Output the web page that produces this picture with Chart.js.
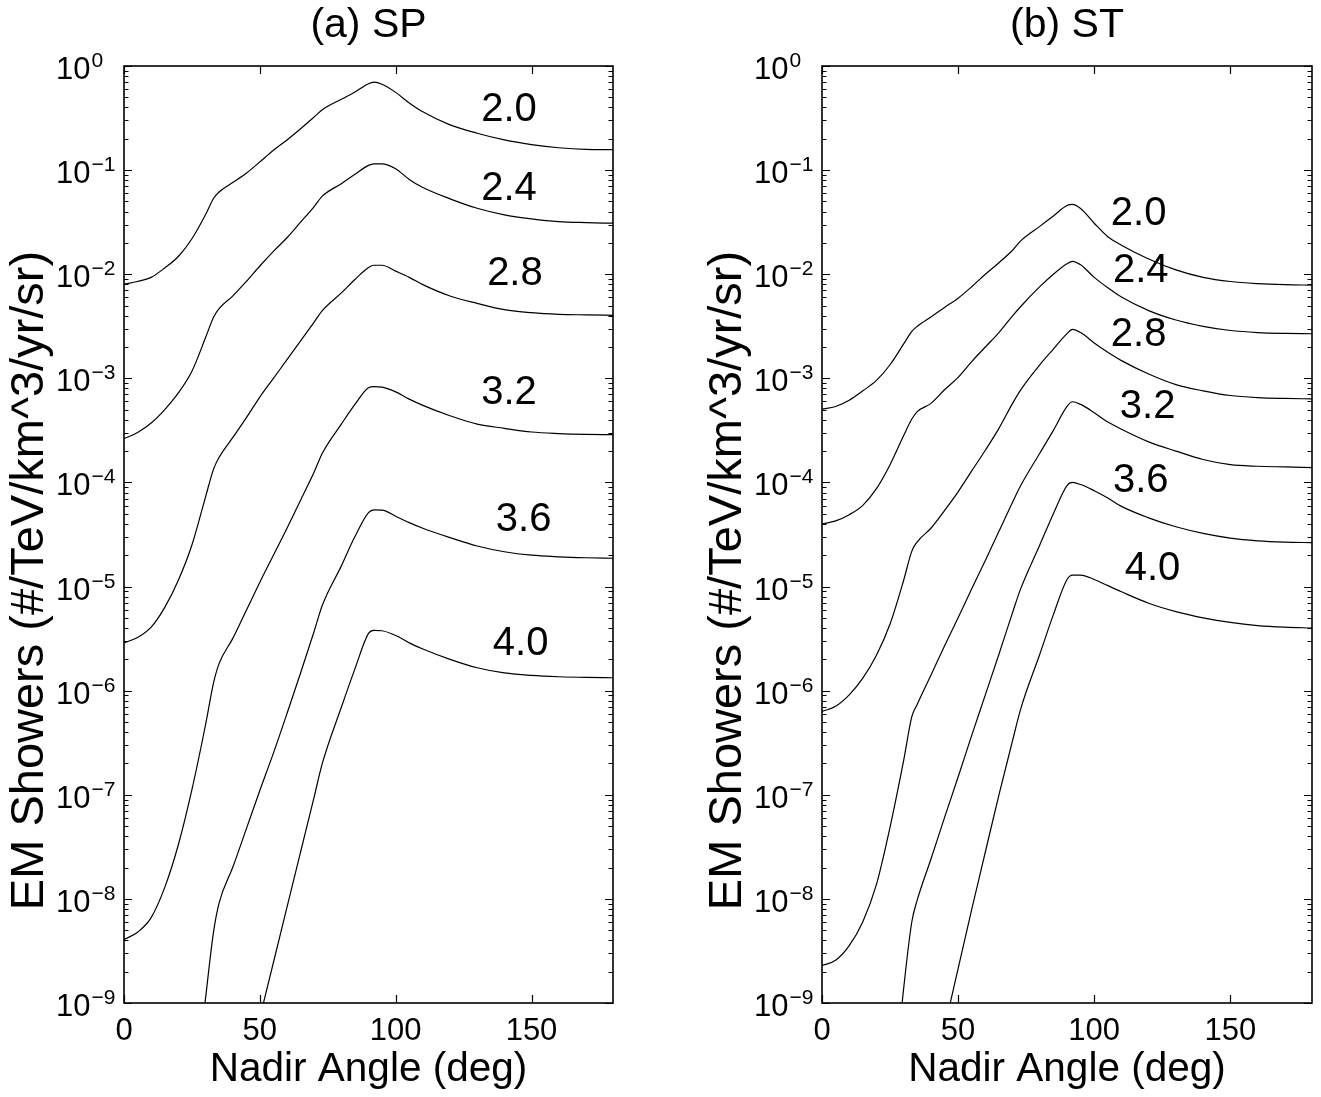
<!DOCTYPE html>
<html>
<head>
<meta charset="utf-8">
<title>EM Showers vs Nadir Angle</title>
<script src="https://cdn.jsdelivr.net/npm/chart.js@4.4.1/dist/chart.umd.min.js"></script>
<style>
  body { margin: 0; background: #fff; }
  #panelSP { position: absolute; left: 0; top: 0; }
  #panelST { position: absolute; left: 698px; top: 0; }
</style>
</head>
<body>
<div id="panelSP"><canvas id="chartSP" width="660" height="1097"></canvas></div>
<div id="panelST"><canvas id="chartST" width="623" height="1097"></canvas></div>
<script>
// nadir angle grid (deg), shared by every curve
const angles = [0, 5, 10, 15, 20, 25, 30, 33, 35, 40, 45, 50, 55, 60, 65, 70, 73,
  80, 85, 90, 92, 95, 100, 105, 110, 120, 130, 140, 150, 160, 170, 180];

// spectral index of each curve
const indexLabels = ['2.0', '2.4', '2.8', '3.2', '3.6', '4.0'];

// (a) SP : showers per TeV/km^3/yr/sr
const sp20 = [8.04e-3, 8.51e-3, 9.33e-3, 1.15e-2, 1.48e-2, 2.19e-2, 3.72e-2, 5.37e-2, 6.17e-2, 7.59e-2, 9.33e-2,
  0.120, 0.155, 0.195, 0.250, 0.324, 0.380, 0.479, 0.562, 0.676, 0.700, 0.668, 0.558, 0.442, 0.363,
  0.272, 0.226, 0.195, 0.176, 0.164, 0.158, 0.157];
const sp24 = [2.63e-4, 3.02e-4, 3.72e-4, 5.01e-4, 7.24e-4, 1.17e-3, 2.45e-3, 3.89e-3, 4.68e-3, 6.17e-3, 8.51e-3,
  1.20e-2, 1.66e-2, 2.24e-2, 3.16e-2, 4.47e-2, 5.62e-2, 7.41e-2, 9.12e-2, 0.111, 0.115, 0.115, 0.103, 8.13e-2, 6.80e-2,
  5.30e-2, 4.30e-2, 3.72e-2, 3.40e-2, 3.20e-2, 3.13e-2, 3.09e-2];
const sp28 = [2.88e-6, 3.24e-6, 4.07e-6, 6.31e-6, 1.15e-5, 2.51e-5, 7.24e-5, 1.35e-4, 1.74e-4, 2.69e-4, 4.17e-4,
  6.61e-4, 1.0e-3, 1.51e-3, 2.29e-3, 3.47e-3, 4.47e-3, 6.61e-3, 8.91e-3, 1.16e-2, 1.22e-2, 1.22e-2, 1.07e-2, 9.33e-3, 7.94e-3,
  6.17e-3, 5.25e-3, 4.57e-3, 4.27e-3, 4.12e-3, 4.07e-3, 4.03e-3];
const sp32 = [4.07e-9, 4.79e-9, 6.61e-9, 1.29e-8, 3.31e-8, 1.12e-7, 4.68e-7, 1.20e-6, 1.82e-6, 3.16e-6, 5.89e-6,
  1.10e-5, 2.0e-5, 3.63e-5, 6.76e-5, 1.26e-4, 1.91e-4, 3.63e-4, 5.62e-4, 8.13e-4, 8.32e-4, 8.22e-4, 7.41e-4, 6.31e-4, 5.50e-4,
  4.37e-4, 3.63e-4, 3.31e-4, 3.05e-4, 2.95e-4, 2.90e-4, 2.88e-4];
const sp36 = [null, null, null, null, null, 7.94e-11, 1.10e-9, 4.90e-9, 9.12e-9, 2.0e-8, 4.68e-8,
  1.10e-7, 2.51e-7, 6.03e-7, 1.48e-6, 3.72e-6, 6.61e-6, 1.58e-5, 3.02e-5, 5.13e-5, 5.45e-5, 5.43e-5, 4.74e-5, 4.11e-5, 3.63e-5,
  2.95e-5, 2.45e-5, 2.16e-5, 2.0e-5, 1.93e-5, 1.89e-5, 1.87e-5];
const sp40 = [null, null, null, null, null, null, null, null, null, null, 2.14e-10,
  7.24e-10, 2.45e-9, 8.32e-9, 2.82e-8, 9.55e-8, 2.0e-7, 6.92e-7, 1.62e-6, 3.55e-6, 3.80e-6, 3.76e-6, 3.39e-6, 2.88e-6, 2.51e-6,
  2.0e-6, 1.66e-6, 1.48e-6, 1.40e-6, 1.36e-6, 1.34e-6, 1.33e-6];

// (b) ST
const st20 = [5.07e-4, 5.37e-4, 6.17e-4, 7.59e-4, 9.55e-4, 1.35e-3, 2.14e-3, 2.82e-3, 3.16e-3, 3.89e-3, 4.79e-3,
  5.89e-3, 7.59e-3, 1.0e-2, 1.29e-2, 1.70e-2, 2.09e-2, 2.88e-2, 3.63e-2, 4.57e-2, 4.68e-2, 4.27e-2, 3.09e-2, 2.29e-2, 1.90e-2,
  1.40e-2, 1.10e-2, 9.33e-3, 8.51e-3, 8.13e-3, 7.94e-3, 7.85e-3];
const st24 = [3.98e-5, 4.27e-5, 4.90e-5, 6.03e-5, 8.71e-5, 1.48e-4, 2.82e-4, 4.07e-4, 4.79e-4, 5.75e-4, 7.76e-4,
  1.02e-3, 1.45e-3, 2.0e-3, 2.75e-3, 3.98e-3, 4.90e-3, 7.59e-3, 1.0e-2, 1.26e-2, 1.33e-2, 1.23e-2, 9.33e-3, 7.41e-3, 6.03e-3,
  4.47e-3, 3.63e-3, 3.16e-3, 2.88e-3, 2.75e-3, 2.70e-3, 2.68e-3];
const st28 = [6.31e-7, 7.08e-7, 9.12e-7, 1.32e-6, 2.19e-6, 4.37e-6, 1.15e-5, 2.19e-5, 2.69e-5, 3.63e-5, 5.37e-5,
  8.13e-5, 1.29e-4, 2.04e-4, 3.31e-4, 5.75e-4, 7.76e-4, 1.35e-3, 1.91e-3, 2.69e-3, 2.95e-3, 2.75e-3, 2.19e-3, 1.78e-3, 1.48e-3,
  1.10e-3, 8.71e-4, 7.59e-4, 6.84e-4, 6.53e-4, 6.41e-4, 6.35e-4];
const st32 = [2.29e-9, 2.57e-9, 3.55e-9, 6.03e-9, 1.38e-8, 4.90e-8, 2.14e-7, 5.62e-7, 7.41e-7, 1.41e-6, 2.69e-6,
  5.01e-6, 9.55e-6, 1.78e-5, 3.39e-5, 6.46e-5, 9.33e-5, 1.91e-4, 3.16e-4, 5.37e-4, 5.96e-4, 5.62e-4, 4.68e-4, 3.80e-4, 3.24e-4,
  2.45e-4, 2.0e-4, 1.66e-4, 1.48e-4, 1.43e-4, 1.41e-4, 1.39e-4];
const st36 = [null, null, null, null, null, 6.31e-11, 1.38e-9, 6.03e-9, 9.77e-9, 2.40e-8, 6.03e-8,
  1.48e-7, 3.72e-7, 9.12e-7, 2.24e-6, 5.62e-6, 9.55e-6, 2.51e-5, 5.01e-5, 9.33e-5, 1.0e-4, 9.55e-5, 8.32e-5, 7.08e-5, 5.89e-5,
  4.57e-5, 3.75e-5, 3.24e-5, 2.92e-5, 2.75e-5, 2.67e-5, 2.64e-5];
const st40 = [null, null, null, null, null, null, null, null, null, 1.62e-10, 5.75e-10,
  2.14e-9, 7.94e-9, 2.82e-8, 1.0e-7, 3.31e-7, 6.68e-7, 2.24e-6, 5.37e-6, 1.17e-5, 1.29e-5, 1.29e-5, 1.17e-5, 1.02e-5, 8.91e-6,
  6.92e-6, 5.75e-6, 5.01e-6, 4.52e-6, 4.22e-6, 4.07e-6, 4.0e-6];

// where each index label sits, in data coordinates
const spLabelX = [141.7, 141.7, 143.9, 141.7, 147.1, 146.0];
const spLabelY = [0.375, 0.0665, 9.95e-3, 7.24e-4, 4.39e-5, 2.79e-6];
const stLabelX = [116.3, 117.1, 116.3, 119.6, 117.1, 121.4];
const stLabelY = [0.0382, 0.0108, 2.59e-3, 5.25e-4, 1.03e-4, 1.47e-5];

const xTickValues = [0, 50, 100, 150];
const decades = [0, -1, -2, -3, -4, -5, -6, -7, -8, -9];

const FONT = "'Liberation Sans', Arial, Helvetica, sans-serif";
const yTitle = 'EM Showers (#/TeV/km^3/yr/sr)';

// box, inward ticks, 10^n tick labels, y title and curve labels
const boxAndLabels = {
  id: 'boxAndLabels',
  afterDatasetsDraw(chart, args, opts) {
    const ctx = chart.ctx;
    const a = chart.chartArea;
    const x = chart.scales.x, y = chart.scales.y;
    ctx.save();
    ctx.strokeStyle = '#000';
    ctx.lineWidth = 1.6;
    ctx.strokeRect(a.left, a.top, a.right - a.left, a.bottom - a.top);

    ctx.lineWidth = 1.2;
    ctx.beginPath();
    decades.forEach(function(e) {
      for (let m = 1; m <= 9; m++) {
        if (e === 0 && m > 1) break;
        const py = Math.round(y.getPixelForValue(m * Math.pow(10, e))) + 0.5;
        const len = m === 1 ? 8 : 4.5;
        ctx.moveTo(a.left, py); ctx.lineTo(a.left + len, py);
        ctx.moveTo(a.right, py); ctx.lineTo(a.right - len, py);
      }
    });
    xTickValues.forEach(function(v) {
      const px = Math.round(x.getPixelForValue(v)) + 0.5;
      ctx.moveTo(px, a.bottom); ctx.lineTo(px, a.bottom - 8);
      ctx.moveTo(px, a.top); ctx.lineTo(px, a.top + 8);
    });
    ctx.stroke();

    ctx.fillStyle = '#000';
    ctx.textAlign = 'left';
    ctx.textBaseline = 'alphabetic';
    decades.forEach(function(e) {
      const py = y.getPixelForValue(Math.pow(10, e));
      const lx = a.left - 68;
      ctx.font = '31px ' + FONT;
      ctx.fillText('10', lx, py + 13);
      const w = ctx.measureText('10').width;
      ctx.font = '21px ' + FONT;
      ctx.fillText(e === 0 ? '0' : '\u2212' + (-e), lx + w + 1, py + 1);
    });

    // y title, a little below the middle of the axis
    ctx.save();
    ctx.translate(a.left - 94, (a.top + a.bottom) / 2 + 46);
    ctx.rotate(-Math.PI / 2);
    ctx.font = '47px ' + FONT;
    ctx.textAlign = 'center';
    ctx.textBaseline = 'middle';
    ctx.fillText(yTitle, 0, 0);
    ctx.restore();

    ctx.font = '40px ' + FONT;
    ctx.textAlign = 'center';
    ctx.textBaseline = 'middle';
    indexLabels.forEach(function(t, i) {
      ctx.fillText(t, x.getPixelForValue(opts.labelX[i]), y.getPixelForValue(opts.labelY[i]));
    });
    ctx.restore();
  }
};

function makeChart(canvasId, title, series, labelX, labelY, padRight) {
  const datasets = series.map(function(vals, i) {
    return {
      label: indexLabels[i],
      data: angles.map(function(ang, k) { return {x: ang, y: vals[k]}; }),
      borderColor: '#000',
      borderWidth: 1.2,
      pointRadius: 0,
      fill: false,
      spanGaps: false,
      cubicInterpolationMode: 'monotone'
    };
  });

  return new Chart(document.getElementById(canvasId), {
    type: 'line',
    data: { datasets: datasets },
    options: {
      responsive: false,
      animation: false,
      devicePixelRatio: 1,
      layout: { padding: { left: 0, right: padRight, top: 0, bottom: 0 } },
      scales: {
        x: {
          type: 'linear', min: 0, max: 180,
          grid: { display: false, drawTicks: false },
          border: { display: false },
          ticks: {
            stepSize: 50, includeBounds: false, autoSkip: false, maxRotation: 0,
            padding: 10, color: '#000', font: { family: FONT, size: 31 },
            callback: function(v) { return xTickValues.includes(v) ? String(v) : ''; }
          },
          title: {
            display: true, text: 'Nadir Angle (deg)', color: '#000',
            font: { family: FONT, size: 40.5 }, padding: { top: 0, bottom: 2.7 }
          },
          afterFit: function(scale) { scale.height = 94; }
        },
        y: {
          type: 'logarithmic', min: 1e-9, max: 1,
          grid: { display: false, drawTicks: false },
          border: { display: false },
          ticks: { display: false },
          afterFit: function(scale) { scale.width = 124; }
        }
      },
      plugins: {
        legend: { display: false },
        tooltip: { enabled: false },
        title: {
          display: true, text: title, color: '#000', fullSize: false,
          font: { family: FONT, size: 41, weight: 'normal' },
          padding: { top: 1.2, bottom: 15.6 }
        },
        boxAndLabels: { labelX: labelX, labelY: labelY }
      }
    },
    plugins: [boxAndLabels]
  });
}

makeChart('chartSP', '(a) SP', [sp20, sp24, sp28, sp32, sp36, sp40], spLabelX, spLabelY, 47);
makeChart('chartST', '(b) ST', [st20, st24, st28, st32, st36, st40], stLabelX, stLabelY, 9);
</script>
</body>
</html>
